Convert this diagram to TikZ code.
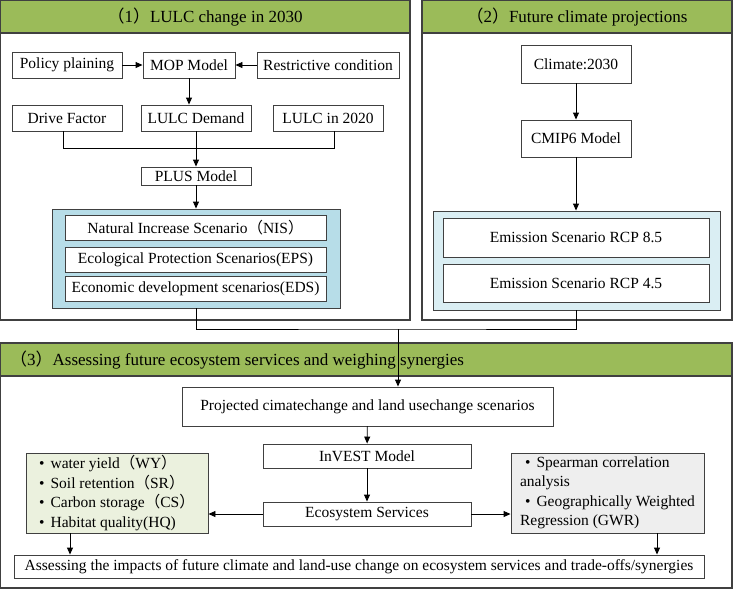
\documentclass[tikz,border=0pt]{standalone}
\usepackage{fontspec}
\setmainfont{Liberation Serif}
\newfontfamily\cjk{Noto Sans CJK SC}
\usetikzlibrary{arrows.meta,calc}
\definecolor{hdrgreen}{RGB}{155,187,89}
\definecolor{blueA}{RGB}{183,221,232}
\definecolor{blueB}{RGB}{218,238,243}
\definecolor{greenbox}{RGB}{235,241,222}
\definecolor{graybox}{RGB}{238,238,238}
\definecolor{edge}{RGB}{64,64,64}
\newcommand{\zlp}{{\cjk （}}
\newcommand{\zrp}{{\cjk ）}}
\begin{document}
\begin{tikzpicture}[x=1pt,y=-1pt,
  box/.style={draw=edge, line width=0.9pt, fill=white, inner sep=0pt, font=\fontsize{15.5}{18}\selectfont},
  cont/.style={draw=edge, line width=0.9pt, inner sep=0pt},
  panel/.style={draw=edge, line width=1.3pt},
  hdr/.style={draw=edge, line width=1.3pt, fill=hdrgreen},
  ttl/.style={inner sep=0pt, font=\fontsize{17}{20}\selectfont},
  arr/.style={-{Triangle[length=7pt,width=6pt]}, line width=0.9pt},
  ln/.style={line width=0.9pt}]
\useasboundingbox (0,0) rectangle (733,590);

% ---------- Panel 1 ----------
\draw[panel] (0.6,0.6) rectangle (410,320);
\draw[hdr] (0.6,0.6) rectangle (410,33);
\node[ttl] (t1) at (205,17) {\zlp 1\zrp LULC change in 2030};

\node[box, minimum width=110pt, minimum height=26pt] (policy) at (67,65) {Policy plaining};
\node[box, minimum width=92pt, minimum height=26pt] (mop) at (189,65) {MOP Model};
\node[box, minimum width=142pt, minimum height=26pt] (restr) at (328,65) {Restrictive condition};
\node[box, minimum width=110pt, minimum height=26pt] (drive) at (67,118) {Drive Factor};
\node[box, minimum width=110pt, minimum height=26pt] (demand) at (196,118) {LULC Demand};
\node[box, minimum width=110pt, minimum height=26pt] (lulc) at (328,118) {LULC in 2020};
\node[box, minimum width=110pt, minimum height=18pt] (plus) at (196,176) {PLUS Model};

\node[cont, fill=blueA, minimum width=288pt, minimum height=99pt] (contA) at (196,258.5) {};
\node[box, minimum width=261pt, minimum height=25pt] (nis) at (195.5,227.5) {Natural Increase Scenario\zlp NIS\zrp};
\node[box, minimum width=261pt, minimum height=25pt] (eps) at (195.5,259.5) {Ecological Protection Scenarios(EPS)};
\node[box, minimum width=261pt, minimum height=25pt] (eds) at (195.5,288.5) {Economic development scenarios(EDS)};

\draw[arr] (policy) -- (mop);
\draw[arr] (restr) -- (mop);
\draw[arr] (mop) -- (mop |- demand.north);
\coordinate (m1) at (196,148);
\draw[ln] ([xshift=-4pt]drive.south) |- (m1);
\draw[ln] ([xshift=6pt]lulc.south) |- (m1);
\draw[arr] (demand.south) -- (plus.north);
\draw[arr] (plus.south) -- (contA.north);

% ---------- Panel 2 ----------
\draw[panel] (422,0.6) rectangle (732,320);
\draw[hdr] (422,0.6) rectangle (732,33);
\node[ttl] (t2) at (577,17) {\zlp 2\zrp Future climate projections};

\node[box, minimum width=110pt, minimum height=38pt] (climate) at (576,64) {Climate:2030};
\node[box, minimum width=110pt, minimum height=37pt] (cmip) at (576,138.5) {CMIP6 Model};
\node[cont, fill=blueB, minimum width=287pt, minimum height=99pt] (contB) at (576.5,260.5) {};
\node[box, minimum width=266pt, minimum height=39pt] (rcp85) at (576,237.5) {Emission Scenario RCP 8.5};
\node[box, minimum width=266pt, minimum height=38pt] (rcp45) at (576,283) {Emission Scenario RCP 4.5};

\draw[arr] (climate) -- (cmip);
\draw[arr] (cmip) -- (contB.north -| cmip);

% ---------- Panel 3 ----------
\draw[panel] (0.6,343) rectangle (732,588);
\draw[hdr] (0.6,343) rectangle (732,376);
\node[ttl, anchor=west] (t3) at (10,360) {\zlp 3\zrp Assessing future ecosystem services and weighing synergies};

\node[box, minimum width=371pt, minimum height=39pt] (proj) at (367.5,406.5) {Projected cimatechange and land usechange scenarios};
\node[box, minimum width=208pt, minimum height=24pt] (invest) at (367,456) {InVEST Model};
\node[box, minimum width=208pt, minimum height=24pt] (es) at (367,514) {Ecosystem Services};
\node[box, fill=greenbox, minimum width=182pt, minimum height=80pt, align=left, font=\fontsize{15.5}{19.5}\selectfont] (green) at (117,493)
  {•\hspace{6pt}water yield\zlp WY\zrp\\ •\hspace{6pt}Soil retention\zlp SR\zrp\\ •\hspace{6pt}Carbon storage\zlp CS\zrp\\ •\hspace{6pt}Habitat quality(HQ)};
\node[box, fill=graybox, minimum width=193pt, minimum height=80pt, align=left, font=\fontsize{15.5}{19.5}\selectfont] (gray) at (607.5,493)
  {\hspace*{5pt}•\hspace{6pt}Spearman correlation\\ analysis\\ \hspace*{5pt}•\hspace{6pt}Geographically Weighted\\ Regression (GWR)};
\node[box, minimum width=690pt, minimum height=23pt] (bottom) at (359,566.5) {Assessing the impacts of future climate and land-use change on ecosystem services and trade-offs/synergies};

\coordinate (j) at (398,329);
\draw[ln] (contA.south) |- (j) -| (contB.south);
\draw[arr] (j) -- (j |- proj.north);
\draw[arr] (proj) -- (invest);
\draw[arr] (invest) -- (es);
\draw[arr] (es.west) -- (es.west -| green.east);
\draw[arr] (es.east) -- (es.east -| gray.west);
\draw[arr] ([xshift=-47pt]green.south) -- ([xshift=-47pt]green.south |- bottom.north);
\draw[arr] ([xshift=49.5pt]gray.south) -- ([xshift=49.5pt]gray.south |- bottom.north);
\end{tikzpicture}
\end{document}
